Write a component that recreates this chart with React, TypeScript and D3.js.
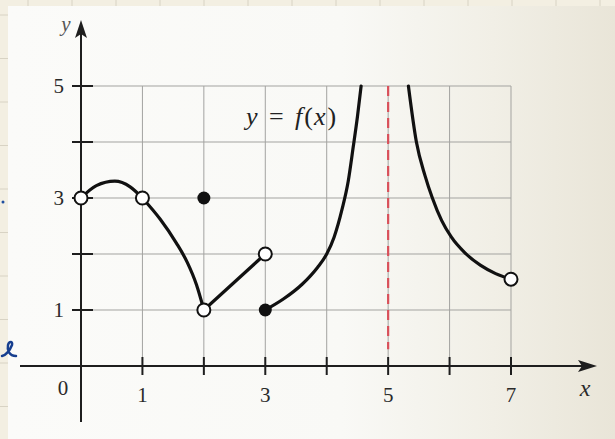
import React, { useEffect, useRef } from 'react';
import * as d3 from 'd3';

// points, [x, y]
const firstArc: [number, number][] = [[0, 3], [0.25, 3.22], [0.55, 3.3], [0.8, 3.2], [1, 3]];
const dropArc: [number, number][] = [[1, 3], [1.29, 2.62], [1.55, 2.2], [1.73, 1.85], [1.88, 1.45], [2, 1]];
const rampLine: [number, number][] = [[2, 1], [3, 2]];
const leftBranch: [number, number][] = [[3, 1], [3.3, 1.2], [3.6, 1.46], [3.85, 1.76], [4, 2], [4.12, 2.3], [4.25, 2.8], [4.35, 3.3], [4.43, 3.9], [4.5, 4.45], [4.56, 5]];
const rightBranch: [number, number][] = [[5.33, 5], [5.46, 4], [5.6, 3.4], [5.72, 3], [5.87, 2.6], [6.03, 2.3], [6.25, 2.02], [6.5, 1.8], [6.75, 1.65], [7, 1.55]];
const openDots: [number, number][] = [[0, 3], [1, 3], [2, 1], [3, 2], [7, 1.55]];
const filledDots: [number, number][] = [[2, 3], [3, 1]];
const asymptoteX = 5;

const gridX = [1, 2, 3, 4, 5, 6, 7];
const gridY = [1, 2, 3, 4, 5];
const xTickLabels = [1, 3, 5, 7];
const yTickLabels = [1, 3, 5];

const W = 615;
const H = 439;

export default function App() {
  const ref = useRef<SVGSVGElement>(null);

  useEffect(() => {
    const svg = d3.select(ref.current);
    svg.selectAll('*').remove();

    const x = d3.scaleLinear().domain([0, 7]).range([81, 511]);
    const y = d3.scaleLinear().domain([0, 5]).range([366, 86]);

    // paper background
    const defs = svg.append('defs');
    const grad = defs.append('linearGradient').attr('id', 'page').attr('x1', 0).attr('x2', 1).attr('y1', 0).attr('y2', 0);
    grad.append('stop').attr('offset', '0%').attr('stop-color', '#fbfbf9');
    grad.append('stop').attr('offset', '55%').attr('stop-color', '#f9f9f6');
    grad.append('stop').attr('offset', '80%').attr('stop-color', '#f1efe6');
    grad.append('stop').attr('offset', '100%').attr('stop-color', '#e9e5d8');

    svg.append('rect').attr('width', W).attr('height', H).attr('fill', '#f3efe2');
    // notebook lines peeking out
    for (let i = 28; i < W; i += 44) {
      svg.append('line').attr('x1', i).attr('x2', i).attr('y1', 0).attr('y2', 7).attr('stroke', '#d8d3c4').attr('stroke-width', 1);
    }
    for (let j = 15; j < H; j += 43.5) {
      svg.append('line').attr('x1', 0).attr('x2', 8).attr('y1', j).attr('y2', j).attr('stroke', '#d8d3c4').attr('stroke-width', 1);
    }
    svg.append('rect').attr('x', 8).attr('y', 6).attr('width', W - 8).attr('height', H - 6).attr('fill', 'url(#page)');

    // grid
    const grid = svg.append('g').attr('stroke', '#a3a3a0').attr('stroke-width', 1);
    grid.selectAll('line.v').data(gridX).enter().append('line')
      .attr('x1', d => x(d)).attr('x2', d => x(d)).attr('y1', y(0)).attr('y2', y(5));
    grid.selectAll('line.h').data(gridY).enter().append('line')
      .attr('x1', x(0)).attr('x2', x(7)).attr('y1', d => y(d)).attr('y2', d => y(d));

    // asymptote
    svg.append('line')
      .attr('x1', x(asymptoteX)).attr('x2', x(asymptoteX))
      .attr('y1', y(5)).attr('y2', y(0.3))
      .attr('stroke', '#d9505a').attr('stroke-width', 2.2)
      .attr('stroke-dasharray', '10,6');

    // axes
    const axisColor = '#1e1e1e';
    svg.append('line').attr('x1', 20).attr('x2', 585).attr('y1', y(0)).attr('y2', y(0))
      .attr('stroke', axisColor).attr('stroke-width', 2);
    svg.append('path').attr('d', `M597,${y(0)} L578,${y(0) - 6} L582,${y(0)} L578,${y(0) + 6} Z`).attr('fill', axisColor);
    svg.append('line').attr('x1', x(0)).attr('x2', x(0)).attr('y1', 422).attr('y2', 32)
      .attr('stroke', axisColor).attr('stroke-width', 2);
    svg.append('path').attr('d', `M${x(0)},20 L${x(0) - 6},38 L${x(0)},34 L${x(0) + 6},38 Z`).attr('fill', axisColor);

    svg.selectAll('line.xt').data(gridX).enter().append('line')
      .attr('x1', d => x(d)).attr('x2', d => x(d)).attr('y1', y(0) - 9).attr('y2', y(0) + 9)
      .attr('stroke', axisColor).attr('stroke-width', 2);
    svg.selectAll('line.yt').data(gridY).enter().append('line')
      .attr('x1', x(0) - 9).attr('x2', x(0) + 12).attr('y1', d => y(d)).attr('y2', d => y(d))
      .attr('stroke', axisColor).attr('stroke-width', 2);

    const font = '"Liberation Serif", "DejaVu Serif", serif';
    svg.selectAll('text.xl').data(xTickLabels).enter().append('text')
      .attr('x', d => x(d)).attr('y', y(0) + 36).attr('text-anchor', 'middle')
      .attr('font-family', font).attr('font-size', 21).attr('fill', '#2a2a2a').text(d => d);
    svg.selectAll('text.yl').data(yTickLabels).enter().append('text')
      .attr('x', x(0) - 17).attr('y', d => y(d) + 7).attr('text-anchor', 'end')
      .attr('font-family', font).attr('font-size', 21).attr('fill', '#2a2a2a').text(d => d);
    svg.append('text').attr('x', 63).attr('y', y(0) + 29).attr('text-anchor', 'middle')
      .attr('font-family', font).attr('font-size', 21).attr('fill', '#2a2a2a').text('0');
    svg.append('text').attr('x', 585).attr('y', y(0) + 30).attr('text-anchor', 'middle')
      .attr('font-family', font).attr('font-style', 'italic').attr('font-size', 24).attr('fill', '#2a2a2a').text('x');
    svg.append('text').attr('x', 66).attr('y', 31).attr('text-anchor', 'middle')
      .attr('font-family', font).attr('font-style', 'italic').attr('font-size', 21).attr('fill', '#555').text('y');

    // curve label, laid out like the book's wide spacing
    const lbl = svg.append('g').attr('font-family', font).attr('font-size', 26).attr('fill', '#222');
    lbl.append('text').attr('x', 246).attr('y', 125).attr('font-style', 'italic').text('y');
    lbl.append('text').attr('x', 269).attr('y', 125).text('=');
    lbl.append('text').attr('x', 295).attr('y', 125)
      .html('<tspan font-style="italic">f</tspan><tspan dx="2">(</tspan><tspan dx="1" font-style="italic">x</tspan><tspan dx="2">)</tspan>');

    // curve pieces
    const line = d3.line<[number, number]>().x(d => x(d[0])).y(d => y(d[1])).curve(d3.curveMonotoneX);
    [firstArc, dropArc, rampLine, leftBranch, rightBranch].forEach(piece => {
      svg.append('path').attr('d', line(piece)).attr('fill', 'none')
        .attr('stroke', '#111').attr('stroke-width', 3.2).attr('stroke-linecap', 'round');
    });

    svg.selectAll('circle.open').data(openDots).enter().append('circle')
      .attr('cx', d => x(d[0])).attr('cy', d => y(d[1])).attr('r', 6.5)
      .attr('fill', '#fff').attr('stroke', '#111').attr('stroke-width', 2);
    svg.selectAll('circle.filled').data(filledDots).enter().append('circle')
      .attr('cx', d => x(d[0])).attr('cy', d => y(d[1])).attr('r', 6.5)
      .attr('fill', '#111');

    // blue pen marks on the left margin
    svg.append('circle').attr('cx', 3).attr('cy', 202).attr('r', 1.5).attr('fill', '#1f4fa0');
    svg.append('path').attr('d', 'M2,356 C6,355 10,350 12,345 C13,341 9,341 8,345 C7,350 9,356 16,356')
      .attr('fill', 'none').attr('stroke', '#173f8f').attr('stroke-width', 2.5).attr('stroke-linecap', 'round');
  }, []);

  return <svg ref={ref} width={W} height={H} style={{ position: 'absolute', left: 0, top: 0 }} />;
}
